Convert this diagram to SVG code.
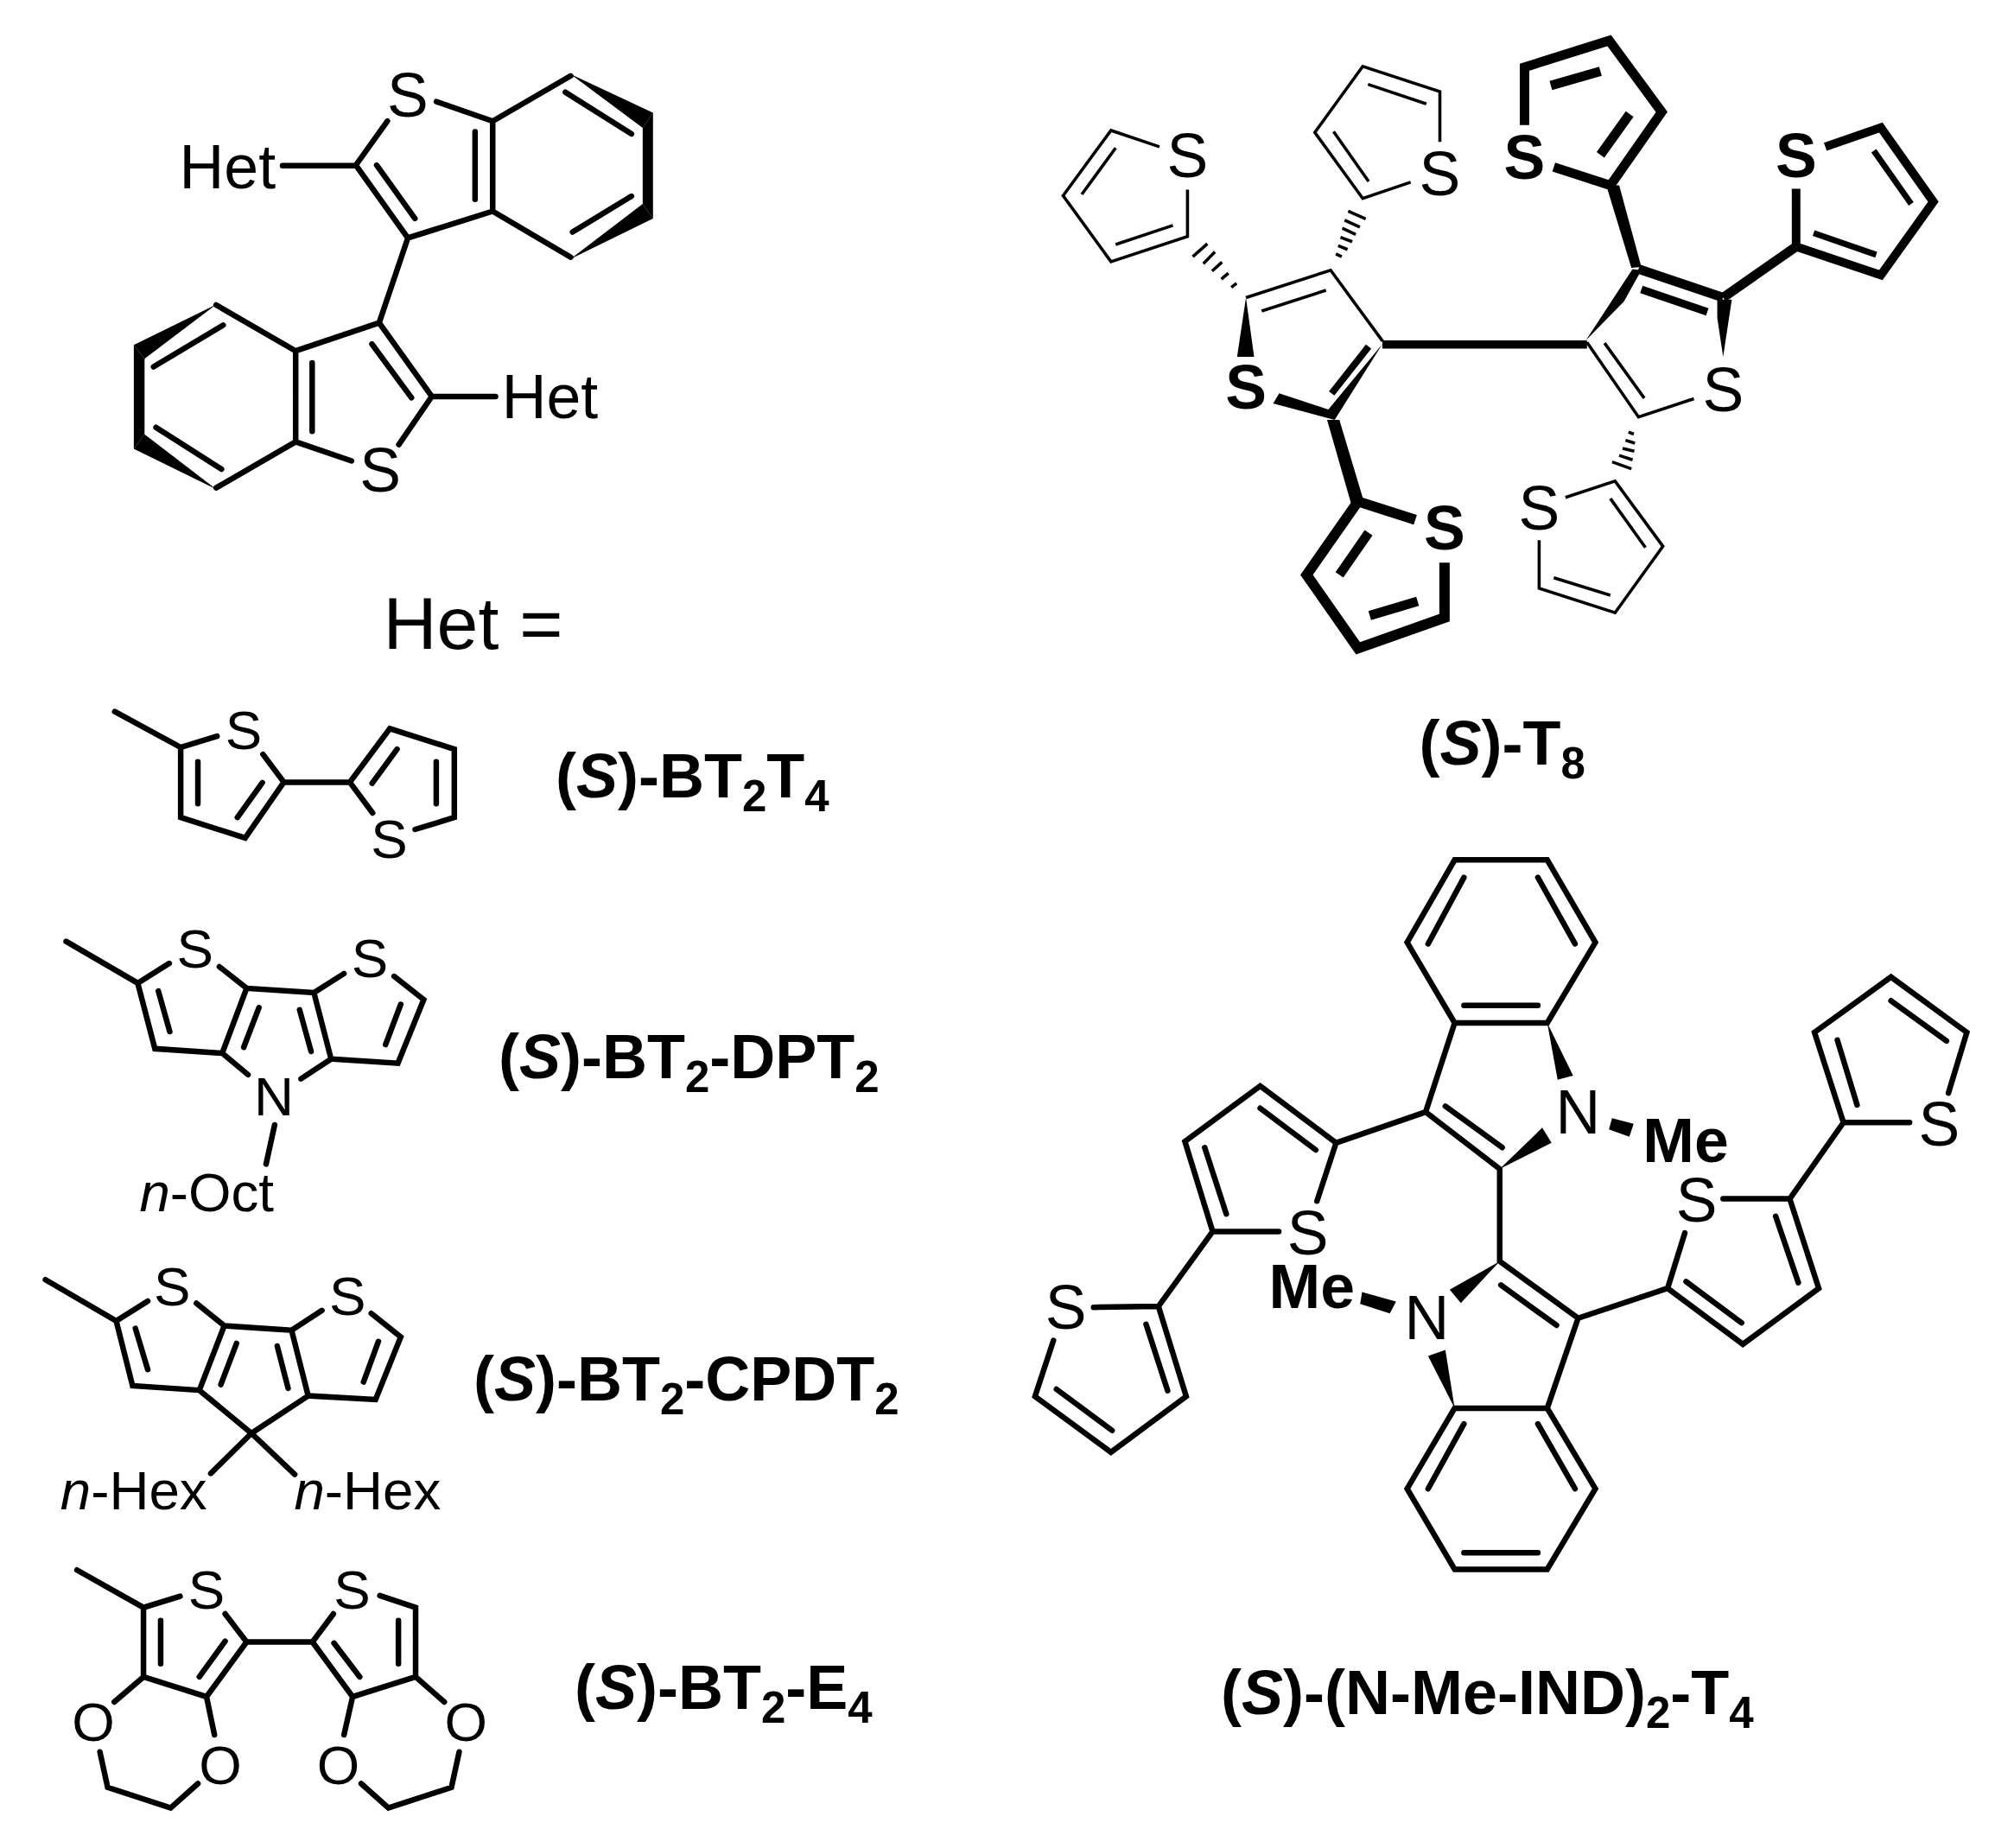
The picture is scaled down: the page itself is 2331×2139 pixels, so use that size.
<svg xmlns="http://www.w3.org/2000/svg" width="2331" height="2139" viewBox="0 0 2331 2139">
<style>
text{font-family:"Liberation Sans",Arial,sans-serif;fill:#000}
.b{fill:none;stroke:#000;stroke-width:6.5;stroke-linecap:round;stroke-linejoin:miter}
.t{fill:none;stroke:#000;stroke-width:3.6;stroke-linecap:butt;stroke-linejoin:miter}
.k{fill:none;stroke:#000;stroke-linecap:butt;stroke-linejoin:miter}
.f{fill:#000;stroke:none}
.l{font-size:72px;text-anchor:middle}
.lb{font-size:72px;text-anchor:middle;font-weight:700}
.m{font-size:64px;text-anchor:middle}
.n{font-size:64px}
.c{font-size:72px;font-weight:700}
.i{font-style:italic}
.s{font-size:51px}
</style>
<rect width="2331" height="2139" fill="#fff"/>

<g id="bibenzothiophene" transform="matrix(.9949 0 0 .9949 .663 .255)">
<path class="b" d="M450,140.7L413.3,191.9L473.8,276.6L572.5,245.5L572.5,140.7L507,118M572.5,140.7L663.3,88M572.5,245.5L663.3,299M437.5,191.9L482,254M552,153V231.7M657,107L734,155.5M665.4,269.7L734,228M328,192.5H413.3M473.8,276.6L440.4,375.3"/>
<polygon class="f" points="663,86 759,131 747,148.6"/>
<polygon class="f" points="759,131 759,254 747,237 747,148.6"/>
<polygon class="f" points="759,254 663,301 747,237"/>
<path class="b" d="M463.3,517L501.7,461L440.4,375.3L343.3,408L343.3,513.7L408.3,536M343.3,408L250.8,354.5M343.3,513.7L250.8,567.3M432,400L478,462.5M362.5,422V501.6M178,426.5L259,378M180.8,497L257,545.5M501.7,461H575.8"/>
<polygon class="f" points="250.8,354 155,401 167.5,417"/>
<polygon class="f" points="155,401 155,522 167.5,505 167.5,417"/>
<polygon class="f" points="155,522 250.8,569 167.5,505"/>
<text class="n" x="208" y="218.5" style="font-size:72px">Het</text>
<text class="l" x="473.7" y="135">S</text>
<text class="n" x="583" y="486.7" style="font-size:72px">Het</text>
<text class="l" x="441.7" y="571.5">S</text>
</g>
<text id="het-equals" x="443.5" y="750.7" style="font-size:86px">Het =</text>

<g id="S-BT2T4" transform="matrix(.9949 0 0 .9949 .204 4.03)">
<path class="b" d="M133.3,823.8L210,865.5L252.3,852.4M210,865.5L210,947L285,970.8L330,906L305.7,873.5M230,882.2V931M276,947L305,906.4M330,906H406.7L453.3,843.6L528.3,867.5L528.3,947L482.7,960.9M406.7,906L433.3,941.8M432.7,907.2L461.7,867.5M507.3,882.2V931"/>
<text class="m" x="283.3" y="867.5">S</text>
<text class="m" x="452.7" y="994">S</text>
</g>
<text id="label-BT2T4" class="c" x="643" y="923">(<tspan class="i">S</tspan>)-BT<tspan class="s" dy="16">2</tspan><tspan dy="-16">T</tspan><tspan class="s" dy="16">4</tspan></text>

<g id="S-BT2-DPT2" transform="matrix(.9949 0 0 .9949 .204 4.03)">
<path class="b" d="M76.7,1091.2L160,1139.7L196.7,1116.7M255,1120.6L286.7,1145.7L365,1150.8L400,1128.6M458.3,1131.8L492.7,1158.8L462.7,1233L385,1228L365,1150.8M385,1228L350,1251M466,1164.4L448.3,1211.2M348.3,1170.7L361.7,1219.2M286.7,1145.7L258.3,1221.2L288.3,1246.2M258.3,1221.2L180,1216L160,1139.7M301,1168.3L283.3,1214.4M184,1148.9L197.3,1196.1M319.3,1304.6L309.3,1350.3"/>
<text class="m" x="226.7" y="1122">S</text>
<text class="m" x="430" y="1133">S</text>
<text class="m" x="318.3" y="1293.9">N</text>
<text class="n" x="162" y="1405"><tspan class="i">n</tspan>-Oct</text>
</g>
<text id="label-DPT2" class="c" x="577" y="1247.7">(<tspan class="i">S</tspan>)-BT<tspan class="s" dy="16">2</tspan><tspan dy="-16">-DPT</tspan><tspan class="s" dy="16">2</tspan></text>

<g id="S-BT2-CPDT2" transform="matrix(.9949 0 0 .9949 .204 7.34)">
<path class="b" d="M52.7,1481.4L135,1529.4L171.7,1506.3M228.3,1508.9L260.7,1535L339,1540.3L374.3,1517.2M431.7,1520.6L466,1548.1L436.7,1620.9L358.3,1616.5L339,1540.3M358.3,1616.5L292.3,1660.1L231.7,1610L260.7,1535M231.7,1610L154,1604.8L135,1529.4M157.3,1538.1L171.7,1586M275,1555.5L256.7,1603.5M322.3,1558.6L335,1607.8M440,1553.3L422.7,1600.4M245,1706.8L292.3,1660.1L342.7,1708"/>
<text class="m" x="200" y="1511">S</text>
<text class="m" x="404" y="1522">S</text>
<text class="n" x="70" y="1748.6"><tspan class="i">n</tspan>-Hex</text>
<text class="n" x="342" y="1748.6"><tspan class="i">n</tspan>-Hex</text>
</g>
<text id="label-CPDT2" class="c" x="548" y="1620.8">(<tspan class="i">S</tspan>)-BT<tspan class="s" dy="16">2</tspan><tspan dy="-16">-CPDT</tspan><tspan class="s" dy="16">2</tspan></text>

<g id="S-BT2-E4" transform="matrix(.9949 0 0 .9949 .204 7.34)">
<path class="b" d="M89.3,1819.2L166.7,1862.8L209.3,1849.7M166.7,1862.8V1943.5L240,1966.6L286.7,1902.9L261.7,1870.2M186.7,1878V1928.2M231.7,1943.5L261.7,1902M286.7,1902.9H363.3L387.7,1870.2M441.7,1848.9L483.3,1862.8V1943.5L410,1966.6L363.3,1902.9M463.3,1878V1928.2M388.3,1904.2L418.3,1943.5M166.7,1943.5L132.7,1972.7M240,1966.6L249.3,2011M116,2030.7L125,2072L198.3,2096L230,2067.7M410,1966.6L400,2011M420,2067.7L451.7,2096L525,2072L534,2030.7M483.3,1943.5L516.7,1972.7"/>
<text class="m" x="240" y="1864">S</text>
<text class="m" x="409.3" y="1864">S</text>
<text class="m" x="108.3" y="2018">O</text>
<text class="m" x="256" y="2068">O</text>
<text class="m" x="393.3" y="2068">O</text>
<text class="m" x="541.7" y="2018">O</text>
</g>
<text id="label-E4" class="c" x="665" y="1978.4">(<tspan class="i">S</tspan>)-BT<tspan class="s" dy="16">2</tspan><tspan dy="-16">-E</tspan><tspan class="s" dy="16">4</tspan></text>

<g id="S-T8" transform="matrix(.9949 0 0 .9949 6.12 .204)">
<path class="t" d="M1342.7,170.5L1286.3,151.5L1230.6,227.4L1286.3,304.2L1375.3,274.8V220.3M1291.7,171.9L1252.3,226M1291.7,284.3L1358.3,262"/>
<path class="t" d="M1381.4,298.5L1398.4,283.4M1393.7,306.6L1407.2,292.9M1403.9,315.2L1415.4,304.7M1414.7,324.6L1422.9,317.5M1426.3,334.1L1432.4,329.4"/>
<path class="t" d="M1443.3,346L1541.8,314.2L1602.3,396.7M1461.6,361.6L1536.4,337.5"/>
<polygon class="f" points="1443.3,346 1433,414.8 1452.8,414.8"/>
<polygon class="f" points="1475,469.3 1482,457.5 1539.8,476.4 1546.5,488.3"/>
<polygon class="f" points="1602,400 1537.7,478 1546.5,488.3"/>
<path class="k" stroke-width="8" d="M1586,403L1543,457.5"/>
<path class="k" stroke-width="9.5" d="M1602,400.5H1840"/>
<path class="t" d="M1668.9,164.8V106.4L1579.2,77L1523.4,153.9L1579.2,230.7L1634.9,211.7M1585.3,97.9L1653.2,120.6M1545.2,152.9L1586,210.8"/>
<path class="t" d="M1562.2,245.4L1582.6,254.4M1558.1,255.9L1575.8,263.9M1555.4,265.3L1571,272.5M1553.3,275.8L1566.9,281M1550.6,285.7L1561.5,290M1547.9,295.2L1554.7,298.5"/>
<polygon class="f" points="1537.7,488.3 1552,488.3 1580.5,583.2 1565.6,585.5"/>
<path class="k" stroke-width="12" d="M1640.3,604.5L1573.7,583.2L1513.9,668.6L1573.7,754L1674.3,718.4V654.4"/>
<path class="k" stroke-width="11" d="M1586,619.7L1552,668.6M1643,699.4L1587.3,716"/>
<path class="k" stroke-width="11" d="M1767.4,145.3V78L1865.9,47L1927,130.1L1867.3,215.5L1801.4,194.2"/>
<path class="k" stroke-width="11" d="M1855.7,82.7L1798,99.3M1889.7,132.5L1855.7,180"/>
<polygon class="f" points="1862.5,215.5 1877.5,215.5 1903.3,310.4 1891.7,311.4"/>
<path class="k" stroke-width="10" d="M2117.3,170.5L2181.9,148.2L2243,234.5L2181.9,319.9L2083.3,286.7V219.3"/>
<path class="k" stroke-width="7" d="M2173.7,175.2L2217.2,236.9M2103.7,271L2176.5,296.2"/>
<path class="k" stroke-width="11" d="M2083.3,286.7L1998.4,346"/>
<path class="k" stroke-width="11" d="M1900,312.8L1998.4,346"/>
<path class="k" stroke-width="9" d="M1903.3,336.5L1980,362.6"/>
<polygon class="f" points="1838.7,395.8 1893,312.8 1903.3,314.2 1883,350.7"/>
<polygon class="f" points="1991.6,348.4 2008.5,348.4 1998.4,414.8 1991.6,369.7"/>
<path class="t" d="M1840,398L1900,485L1964.4,463.6M1860.5,399L1906.7,463"/>
<path class="t" d="M1888.3,502.5L1894.5,504.9M1884.9,512L1895.8,515.4M1881.5,521.5L1895.1,524.8M1877.5,529.6L1893.1,534.8M1869.3,537.2L1891.7,545.2"/>
<path class="t" d="M1815,578.5L1872.7,559.5L1928.4,635.4L1872.7,712.7L1784.4,684.2V628.3M1867.3,579.9L1908,636.8M1801.4,671.9L1867.3,692.3"/>
<text class="l" x="1375.3" y="206">S</text>
<text class="l" x="1668.9" y="226.5">S</text>
<text class="lb" x="1767.4" y="207.5">S</text>
<text class="lb" x="2083.3" y="205.5">S</text>
<text class="lb" x="1443.3" y="475.5">S</text>
<text class="l" x="1998.4" y="478">S</text>
<text class="lb" x="1674.3" y="639">S</text>
<text class="l" x="1784.4" y="615.5">S</text>
</g>
<text id="label-T8" class="c" x="1642.5" y="884.5">(<tspan class="i">S</tspan>)-T<tspan class="s" dy="16">8</tspan></text>

<g id="S-N-Me-IND-T4" transform="matrix(.9949 0 0 .9949 6.02 5)">
<path class="b" d="M1686.2,995.4H1793.9L1849.9,1091.4L1793.9,1185H1686.2L1630.9,1091.4ZM1697,1015.8L1655.3,1093M1783,1015.8L1826.2,1093M1697,1164.7H1783M1686.2,1185L1652.4,1288.7L1738.6,1354.9V1462.4L1829.8,1528.5L1793.9,1633.3H1686.2M1675.4,1282L1741.5,1330M1652.4,1288.7L1548.3,1324.6L1460,1258.4L1372.4,1322.9L1404.7,1427.7H1481.6M1548.3,1324.6L1526,1392.4M1460,1284.3L1524.6,1332.8M1395.4,1330L1420.5,1407.3M1404.7,1427.7L1341.6,1514.8L1266.2,1515.9M1341.6,1514.8L1373.9,1619.5L1286.3,1684.5L1198,1619.5L1219.5,1554.5M1327.2,1535.7L1352.3,1612.9M1223,1611.2L1287.7,1659.2M1740,1490L1804.7,1536.8M1829.8,1528.5L1933.9,1493.8L2021.5,1558.9L2109.8,1493.8L2076,1389.6H1998.5M1933.9,1493.8L1954,1429.3M1955.4,1486L2020,1534M2059.6,1410L2086,1487.2M2076,1389.6L2138.5,1300.9L2104.8,1196.1L2193.8,1131.6L2282,1196.1L2260.6,1266.7M2138.5,1300.9H2215.4M2131.4,1205L2154.4,1280.5M2193.8,1159.2L2258.4,1206M1793.9,1633.3L1849.9,1727L1793.9,1820.7H1686.2L1630.9,1727L1686.2,1633.3M1697,1651.5L1655.3,1727M1783,1651.5L1826.2,1727M1697,1801.4H1783"/>
<polygon class="f" points="1793.9,1185 1806,1251.2 1824,1246.3"/>
<polygon class="f" points="1738.6,1354.9 1788.1,1307 1798.9,1324.6"/>
<polygon class="f" points="1865.7,1309 1869.3,1295.9 1894.4,1302.5 1889.4,1317.4"/>
<polygon class="f" points="1738.6,1462.4 1680.4,1495.5 1693.4,1510.9"/>
<polygon class="f" points="1578.5,1498.2 1618,1509.2 1610.8,1523 1576.3,1512"/>
<polygon class="f" points="1686.2,1633.3 1655.3,1572.6 1675.4,1565.5"/>
<text class="l" x="1829.8" y="1313.5">N</text>
<text class="c" x="1905" y="1346.6">Me</text>
<text class="l" x="1653.9" y="1553.4">N</text>
<text class="c" x="1470" y="1516.4">Me</text>
<text class="l" x="1515.3" y="1454.5">S</text>
<text class="l" x="1233.9" y="1541">S</text>
<text class="l" x="1967.6" y="1416.5">S</text>
<text class="l" x="2249.8" y="1327.5">S</text>
</g>
<text id="label-IND" class="c" x="1413" y="1984">(<tspan class="i">S</tspan>)-(N-Me-IND)<tspan class="s" dy="16">2</tspan><tspan dy="-16">-T</tspan><tspan class="s" dy="16">4</tspan></text>
</svg>
